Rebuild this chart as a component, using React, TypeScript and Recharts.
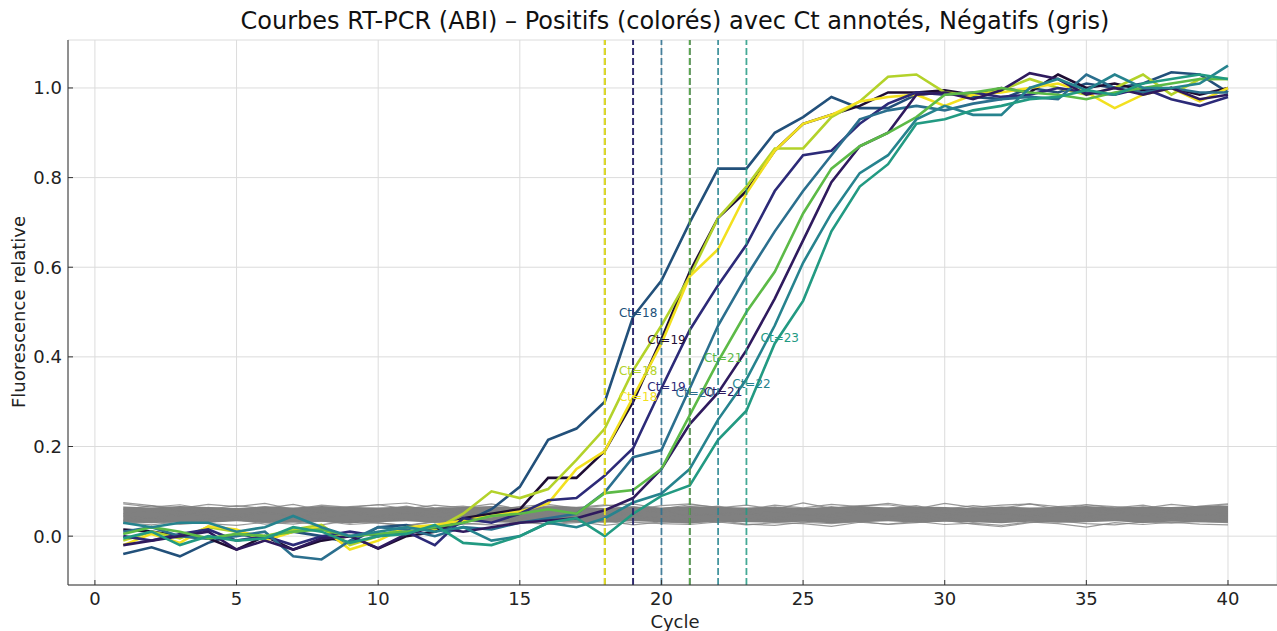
import React from "react";
import {
  ComposedChart,
  Line,
  Area,
  XAxis,
  YAxis,
  CartesianGrid,
  ReferenceLine,
  ReferenceDot,
} from "recharts";

const cycles = Array.from({ length: 40 }, (_, i) => i + 1);

// positive samples (viridis-like colours), one array per well
const pos1 = [-0.04, -0.025, -0.045, -0.015, 0.005, -0.005, 0.01, 0.0, -0.015, 0.02, 0.025, 0.01, 0.03, 0.06, 0.11, 0.215, 0.24, 0.3, 0.49, 0.57, 0.7, 0.82, 0.82, 0.9, 0.935, 0.98, 0.955, 0.955, 0.985, 0.99, 0.98, 0.975, 1.0, 0.99, 1.01, 1.0, 1.01, 1.035, 1.03, 0.99];
const pos2 = [0.015, 0.01, 0.0, -0.005, -0.03, 0.0, -0.03, -0.01, 0.0, -0.028, 0.0, 0.01, 0.04, 0.05, 0.06, 0.13, 0.13, 0.19, 0.3, 0.44, 0.59, 0.71, 0.77, 0.86, 0.92, 0.94, 0.96, 0.99, 0.99, 0.995, 0.985, 1.0, 0.99, 1.03, 1.0, 1.01, 0.995, 1.0, 0.985, 1.0];
const pos3 = [-0.01, 0.01, -0.005, 0.02, 0.01, 0.0, 0.015, 0.025, -0.02, 0.0, 0.02, 0.015, 0.05, 0.1, 0.085, 0.105, 0.17, 0.24, 0.37, 0.47, 0.58, 0.71, 0.78, 0.865, 0.865, 0.935, 0.97, 1.025, 1.03, 0.99, 0.985, 0.995, 1.02, 1.0, 0.985, 1.0, 1.03, 0.985, 1.02, 1.02];
const pos4 = [-0.02, 0.005, -0.015, 0.022, 0.015, -0.01, 0.01, 0.02, -0.03, -0.01, 0.02, 0.025, 0.035, 0.045, 0.055, 0.073, 0.15, 0.19, 0.31, 0.43, 0.58, 0.64, 0.765, 0.86, 0.92, 0.94, 0.97, 0.98, 0.985, 0.96, 0.985, 0.99, 1.0, 1.01, 0.99, 0.955, 0.985, 1.0, 0.97, 1.0];
const pos5 = [0.0, -0.01, 0.005, 0.015, -0.01, 0.0, -0.02, 0.0, 0.01, 0.0, 0.01, -0.02, 0.04, 0.03, 0.05, 0.08, 0.085, 0.135, 0.196, 0.33, 0.46, 0.56, 0.65, 0.77, 0.85, 0.86, 0.92, 0.965, 0.99, 0.985, 0.99, 0.98, 0.985, 1.0, 0.99, 0.985, 1.0, 0.975, 0.96, 0.98];
const pos6 = [0.01, 0.02, 0.0, -0.005, 0.0, 0.01, -0.045, -0.052, -0.01, 0.02, 0.015, 0.0, 0.02, 0.015, 0.03, 0.04, 0.05, 0.098, 0.176, 0.192, 0.33, 0.47, 0.58, 0.68, 0.77, 0.85, 0.93, 0.95, 0.96, 0.95, 0.965, 0.975, 0.98, 0.975, 1.03, 1.0, 0.99, 1.0, 0.99, 0.99];
const pos7 = [-0.02, -0.01, 0.0, 0.01, -0.03, -0.01, -0.03, -0.005, 0.0, -0.027, 0.005, 0.02, 0.01, 0.02, 0.03, 0.035, 0.04, 0.058, 0.085, 0.15, 0.25, 0.32, 0.415, 0.53, 0.66, 0.79, 0.87, 0.9, 0.985, 0.99, 0.975, 0.995, 1.033, 1.02, 0.985, 1.0, 0.985, 1.0, 0.975, 0.985];
const pos8 = [0.005, 0.02, 0.01, -0.005, 0.005, 0.0, 0.01, 0.015, 0.0, 0.005, 0.01, 0.02, 0.03, 0.045, 0.05, 0.06, 0.05, 0.096, 0.103, 0.15, 0.27, 0.39, 0.5, 0.59, 0.72, 0.82, 0.87, 0.9, 0.935, 0.985, 0.99, 1.0, 0.99, 0.985, 0.975, 0.99, 1.0, 1.01, 1.02, 1.02];
const pos9 = [0.03, 0.02, 0.03, 0.03, 0.01, 0.02, 0.045, 0.02, 0.0, 0.01, 0.02, 0.01, 0.02, -0.01, 0.0, 0.03, 0.02, 0.04, 0.075, 0.095, 0.15, 0.26, 0.35, 0.47, 0.61, 0.72, 0.81, 0.85, 0.93, 0.96, 0.94, 0.94, 1.0, 1.02, 0.995, 1.03, 1.0, 1.0, 1.01, 1.05];
const pos10 = [-0.005, 0.01, -0.02, 0.0, -0.01, -0.005, 0.02, 0.01, -0.015, 0.0, 0.005, 0.025, -0.015, -0.02, 0.0, 0.03, 0.04, 0.0, 0.05, 0.09, 0.113, 0.215, 0.28, 0.43, 0.525, 0.68, 0.78, 0.83, 0.92, 0.93, 0.95, 0.96, 0.975, 0.98, 0.995, 0.985, 1.01, 1.02, 1.03, 1.02];

const positives = [pos1, pos2, pos3, pos4, pos5, pos6, pos7, pos8, pos9, pos10];
const posColors = ["#22507a", "#1e0d33", "#b3d22a", "#f2e01f", "#2c2a78", "#2b6f8e", "#2f1a5e", "#5cba47", "#26838e", "#229a82"];
const ctValues = [18, 19, 18, 18, 19, 20, 21, 21, 22, 23];
const ctLabelY = [0.498, 0.437, 0.368, 0.31, 0.333, 0.319, 0.321, 0.397, 0.339, 0.442];

// negative samples (grey)
const neg1 = [0.072, 0.065, 0.07, 0.06, 0.068, 0.062, 0.071, 0.058, 0.066, 0.07, 0.061, 0.069, 0.063, 0.072, 0.06, 0.067, 0.064, 0.07, 0.059, 0.068, 0.072, 0.063, 0.069, 0.06, 0.074, 0.062, 0.068, 0.07, 0.061, 0.073, 0.064, 0.069, 0.072, 0.06, 0.07, 0.066, 0.062, 0.071, 0.065, 0.07];
const neg2 = [0.03, 0.025, 0.033, 0.028, 0.024, 0.031, 0.027, 0.034, 0.026, 0.03, 0.023, 0.032, 0.028, 0.025, 0.03, 0.027, 0.033, 0.024, 0.031, 0.028, 0.026, 0.032, 0.025, 0.03, 0.028, 0.022, 0.031, 0.027, 0.033, 0.026, 0.029, 0.024, 0.032, 0.028, 0.02, 0.03, 0.026, 0.031, 0.027, 0.025];
const neg3 = [0.06, 0.068, 0.055, 0.064, 0.058, 0.066, 0.06, 0.052, 0.065, 0.058, 0.067, 0.055, 0.062, 0.058, 0.065, 0.056, 0.063, 0.06, 0.066, 0.054, 0.061, 0.067, 0.056, 0.064, 0.058, 0.066, 0.057, 0.062, 0.068, 0.055, 0.063, 0.059, 0.057, 0.066, 0.06, 0.058, 0.065, 0.056, 0.063, 0.061];
const neg4 = [0.035, 0.042, 0.03, 0.038, 0.044, 0.033, 0.04, 0.036, 0.029, 0.041, 0.037, 0.032, 0.043, 0.035, 0.039, 0.031, 0.042, 0.036, 0.04, 0.033, 0.038, 0.03, 0.041, 0.036, 0.034, 0.04, 0.032, 0.038, 0.035, 0.042, 0.031, 0.039, 0.036, 0.033, 0.041, 0.037, 0.03, 0.039, 0.035, 0.038];
const neg5 = [0.05, 0.056, 0.045, 0.058, 0.048, 0.054, 0.043, 0.052, 0.057, 0.046, 0.053, 0.049, 0.055, 0.044, 0.051, 0.058, 0.047, 0.053, 0.05, 0.056, 0.045, 0.052, 0.049, 0.055, 0.047, 0.05, 0.056, 0.044, 0.053, 0.048, 0.055, 0.05, 0.046, 0.054, 0.051, 0.057, 0.048, 0.052, 0.047, 0.053];
const neg6 = [0.045, 0.04, 0.05, 0.047, 0.041, 0.052, 0.046, 0.04, 0.049, 0.044, 0.05, 0.042, 0.048, 0.051, 0.043, 0.047, 0.04, 0.05, 0.045, 0.042, 0.049, 0.046, 0.052, 0.041, 0.048, 0.044, 0.05, 0.046, 0.042, 0.049, 0.045, 0.051, 0.043, 0.047, 0.044, 0.05, 0.046, 0.041, 0.048, 0.045];
const neg7 = [0.075, 0.068, 0.062, 0.071, 0.066, 0.073, 0.06, 0.069, 0.064, 0.07, 0.074, 0.063, 0.067, 0.058, 0.066, 0.071, 0.062, 0.068, 0.072, 0.061, 0.07, 0.065, 0.06, 0.069, 0.063, 0.071, 0.066, 0.073, 0.064, 0.06, 0.068, 0.062, 0.072, 0.066, 0.07, 0.063, 0.069, 0.058, 0.067, 0.072];
const neg8 = [0.028, 0.034, 0.026, 0.031, 0.037, 0.027, 0.032, 0.025, 0.035, 0.029, 0.024, 0.033, 0.027, 0.031, 0.036, 0.026, 0.03, 0.034, 0.025, 0.032, 0.029, 0.035, 0.027, 0.024, 0.031, 0.028, 0.033, 0.026, 0.03, 0.035, 0.027, 0.021, 0.03, 0.034, 0.028, 0.025, 0.032, 0.029, 0.033, 0.03];
const negatives = [neg1, neg2, neg3, neg4, neg5, neg6, neg7, neg8];

// dense core of the many overlapping negative curves
const negCoreLow = [0.031, 0.029, 0.032, 0.03, 0.033, 0.03, 0.031, 0.032, 0.029, 0.031, 0.033, 0.03, 0.032, 0.031, 0.029, 0.032, 0.031, 0.03, 0.033, 0.031, 0.029, 0.032, 0.031, 0.03, 0.032, 0.029, 0.031, 0.033, 0.03, 0.032, 0.031, 0.029, 0.032, 0.03, 0.031, 0.033, 0.03, 0.032, 0.031, 0.03];
const negCoreHigh = [0.066, 0.064, 0.067, 0.065, 0.063, 0.066, 0.064, 0.067, 0.065, 0.064, 0.066, 0.063, 0.065, 0.067, 0.064, 0.066, 0.065, 0.063, 0.066, 0.064, 0.067, 0.065, 0.064, 0.066, 0.063, 0.065, 0.067, 0.064, 0.066, 0.065, 0.063, 0.066, 0.064, 0.065, 0.067, 0.064, 0.066, 0.065, 0.067, 0.068];

const xTicks = [0, 5, 10, 15, 20, 25, 30, 35, 40];
const yTicks = [0, 0.2, 0.4, 0.6, 0.8, 1.0];

const data = cycles.map((c, i) => {
  const row: any = { cycle: c, core: [negCoreLow[i], negCoreHigh[i]] };
  positives.forEach((s, k) => (row["p" + k] = s[i]));
  negatives.forEach((s, k) => (row["n" + k] = s[i]));
  return row;
});

const font = "DejaVu Sans, sans-serif";

export default function App() {
  return (
    <div style={{ position: "absolute", left: 0, top: 0, width: 1277, height: 631, fontFamily: font, background: "#fff" }}>
      <ComposedChart
        width={1277}
        height={631}
        data={data}
        margin={{ top: 40, right: 0, bottom: 0, left: 0 }}
      >
        <CartesianGrid stroke="#dcdcdc" strokeWidth={1} />
        <XAxis
          type="number"
          dataKey="cycle"
          domain={[-0.95, 41.73]}
          ticks={xTicks}
          allowDataOverflow
          height={46}
          tickSize={-5}
          tickMargin={12}
          stroke="#333"
          tick={{ fill: "#222", fontSize: 18, fontFamily: font }}
        />
        <YAxis
          type="number"
          domain={[-0.109, 1.107]}
          ticks={yTicks}
          allowDataOverflow
          width={68}
          tickSize={-5}
          tickMargin={11}
          stroke="#333"
          tickFormatter={(v: number) => v.toFixed(1)}
          tick={{ fill: "#222", fontSize: 18, fontFamily: font }}
        />
        <Area
          dataKey="core"
          stroke="none"
          fill="#808080"
          fillOpacity={1}
          isAnimationActive={false}
        />
        {negatives.map((_, k) => (
          <Line
            key={"n" + k}
            dataKey={"n" + k}
            stroke="#808080"
            strokeWidth={1.2}
            strokeOpacity={0.8}
            dot={false}
            isAnimationActive={false}
          />
        ))}
        {positives.map((_, k) => (
          <Line
            key={"p" + k}
            dataKey={"p" + k}
            stroke={posColors[k]}
            strokeWidth={2.6}
            dot={false}
            isAnimationActive={false}
          />
        ))}
        {ctValues.map((ct, k) => (
          <ReferenceLine
            key={"ct" + k}
            x={ct}
            stroke={posColors[k]}
            strokeOpacity={0.85}
            strokeWidth={1.8}
            strokeDasharray="7 3"
          />
        ))}
        {ctValues.map((ct, k) => (
          <ReferenceDot
            key={"lab" + k}
            x={ct + 0.5}
            y={ctLabelY[k]}
            r={0}
            ifOverflow="visible"
            shape={(p: any) => (
              <text
                x={p.cx}
                y={p.cy}
                fill={posColors[k]}
                fontSize={12}
                fontFamily={font}
                dominantBaseline="central"
              >
                {"Ct=" + ct}
              </text>
            )}
          />
        ))}
      </ComposedChart>
      <div style={{ position: "absolute", left: 675, top: 7, transform: "translateX(-50%)", whiteSpace: "nowrap", fontSize: 24, color: "#111" }}>
        Courbes RT-PCR (ABI) – Positifs (colorés) avec Ct annotés, Négatifs (gris)
      </div>
      <div style={{ position: "absolute", left: 18, top: 312, transform: "translate(-50%, -50%) rotate(-90deg)", whiteSpace: "nowrap", fontSize: 18, color: "#222" }}>
        Fluorescence relative
      </div>
      <div style={{ position: "absolute", left: 675, top: 621, transform: "translate(-50%, -50%)", whiteSpace: "nowrap", fontSize: 18, color: "#222" }}>
        Cycle
      </div>
    </div>
  );
}
